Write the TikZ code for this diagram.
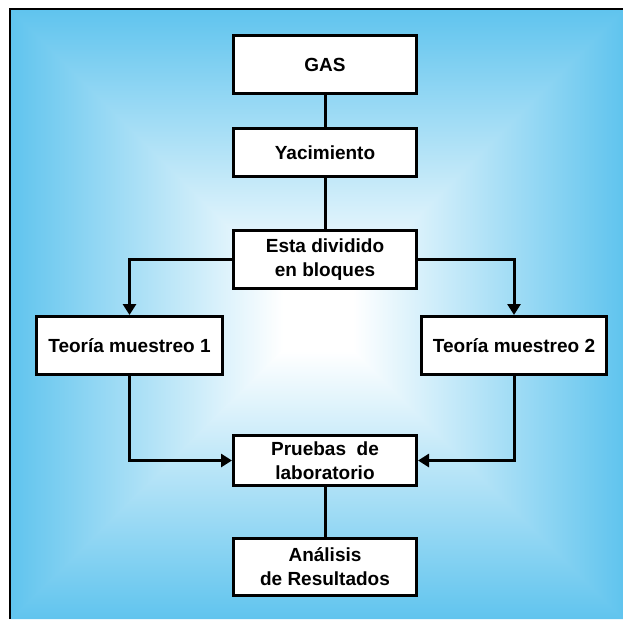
\documentclass[tikz,border=0pt]{standalone}
\usepackage{fontspec}
\setmainfont{Liberation Sans}
\usetikzlibrary{arrows.meta}
\definecolor{skyedge}{RGB}{96,196,238}
\begin{document}
\begin{tikzpicture}[x=1pt,y=-1pt,
  box/.style={draw=black, line width=3pt, fill=white, align=center,
    font=\fontsize{19}{24}\selectfont\bfseries, inner sep=0pt},
  link/.style={draw=black, line width=3pt},
  arrowlink/.style={link, -{Triangle[width=13pt,length=11pt]}}]
\useasboundingbox (0,0) rectangle (623,619);
% background panel: rectangular gradient from the edges to a white centre
\fill[white] (11,10) rectangle (623,619);
\coordinate (C) at (318,316);
\begin{scope}
  \clip (11,10) -- (11,619) -- (C) -- cycle;
  \shade[left color=skyedge, right color=white] (11,10) rectangle (283,619);
\end{scope}
\begin{scope}
  \clip (623,10) -- (623,619) -- (C) -- cycle;
  \shade[left color=white, right color=skyedge] (353,10) rectangle (623,619);
\end{scope}
\begin{scope}
  \clip (10,10) -- (624,10) -- (318,317.5) -- cycle;
  \shade[top color=skyedge, bottom color=white] (11,10) rectangle (623,281);
\end{scope}
\begin{scope}
  \clip (10,619) -- (624,619) -- (318,314.5) -- cycle;
  \shade[top color=white, bottom color=skyedge] (11,351) rectangle (623,619);
\end{scope}
% panel frame
\draw[black, line width=2.5pt] (10,619) -- (10,9) -- (623,9);
% boxes
\node[box, minimum width=183pt, minimum height=58pt] (gas) at (325,64.5) {GAS};
\node[box, minimum width=183pt, minimum height=48pt] (yac) at (325,152.5) {Yacimiento};
\node[box, minimum width=183pt, minimum height=58pt] (esta) at (325,259.5) {Esta dividido\\en bloques};
\node[box, minimum width=186pt, minimum height=58pt] (t1) at (129.5,345.5) {Teoría muestreo 1};
\node[box, minimum width=185pt, minimum height=58pt] (t2) at (514,345.5) {Teoría muestreo 2};
\node[box, minimum width=183pt, minimum height=50pt] (pr) at (325,460.5) {Pruebas\ \ de\\laboratorio};
\node[box, minimum width=183pt, minimum height=57pt] (an) at (325,567) {Análisis\\de Resultados};
% connectors
\draw[link] (gas) -- (yac);
\draw[link] (yac) -- (esta);
\draw[link] (pr) -- (an);
\draw[arrowlink] (esta.west) -| (t1.north);
\draw[arrowlink] (esta.east) -| (t2.north);
\draw[arrowlink] (t1.south) |- (pr.west);
\draw[arrowlink] (t2.south) |- (pr.east);
\end{tikzpicture}
\end{document}
